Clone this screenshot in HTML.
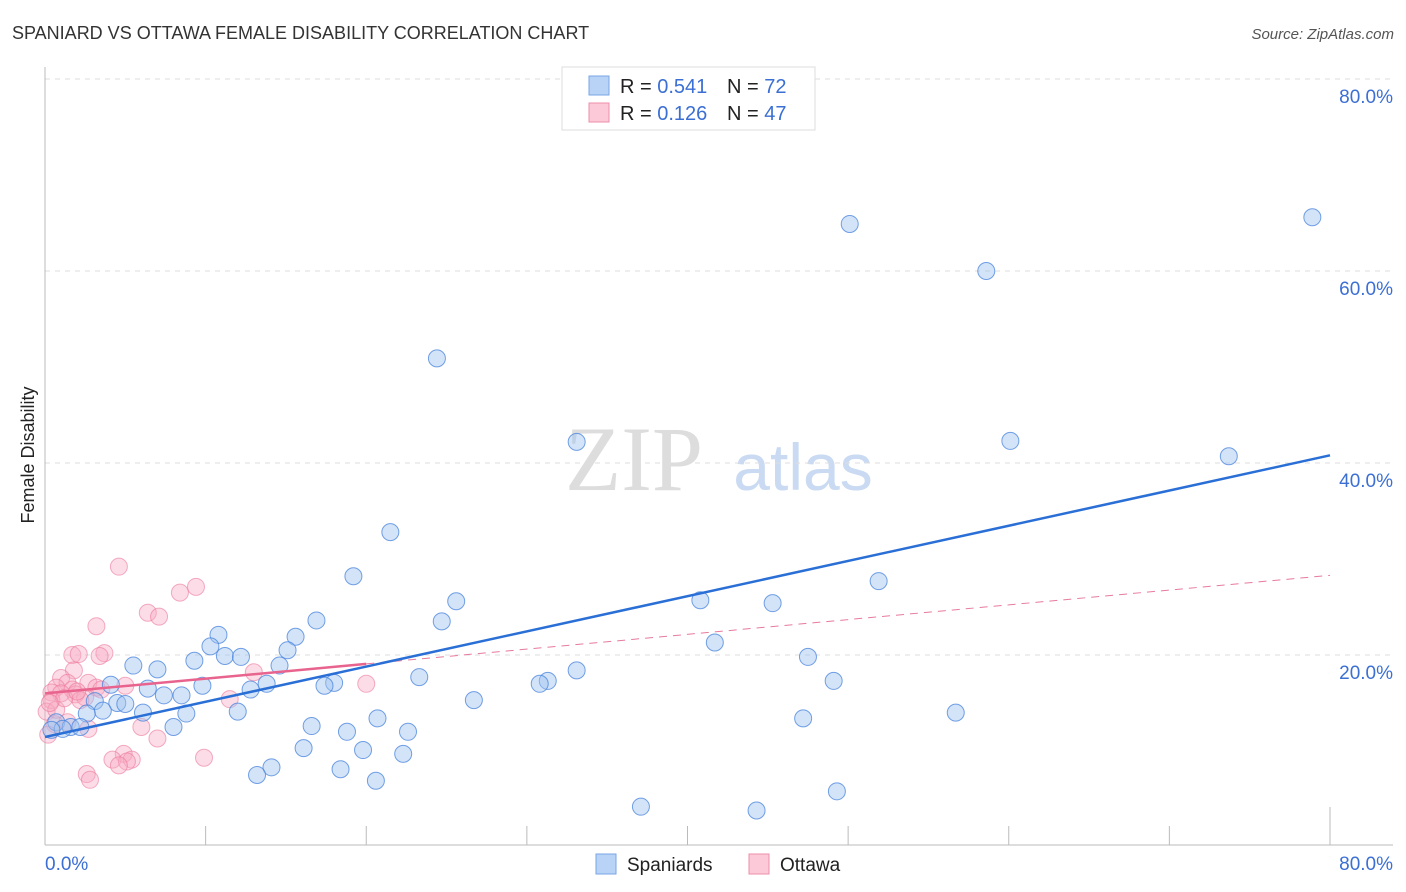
<!DOCTYPE html>
<html><head><meta charset="utf-8"><style>
body{margin:0;background:#fff;font-family:"Liberation Sans",sans-serif;}
svg{display:block}
</style></head><body>
<svg id="chart" width="1406" height="892">
<text x="12" y="39" font-size="18" fill="#333">SPANIARD VS OTTAWA FEMALE DISABILITY CORRELATION CHART</text>
<text x="1394" y="39" font-size="15" fill="#555" font-style="italic" text-anchor="end">Source: ZipAtlas.com</text>
<g>
<text x="634" y="490" font-size="92" fill="#ddd" text-anchor="middle" font-family="Liberation Serif,serif">ZIP</text>
<text x="803" y="490" font-size="66" fill="#c9daf2" text-anchor="middle">atlas</text>
</g>
<text transform="translate(34,455) rotate(-90)" font-size="18" fill="#222" text-anchor="middle">Female Disability</text>
<g id="grid"></g>
<g id="axes"></g>
<g id="points"></g>
<g id="trends"></g>
<g>
<rect x="562" y="67" width="253" height="63" fill="#fff" stroke="#ddd"/>
<rect x="589" y="76" width="20" height="19" fill="#b8d3f5" stroke="#7aa6e6"/>
<text x="620" y="93" font-size="20" fill="#222">R = <tspan fill="#3b6fd4">0.541</tspan><tspan x="727">N = </tspan><tspan fill="#3b6fd4">72</tspan></text>
<rect x="589" y="103" width="20" height="19" fill="#fbc9d7" stroke="#ee8eaa"/>
<text x="620" y="120" font-size="20" fill="#222">R = <tspan fill="#3b6fd4">0.126</tspan><tspan x="727">N = </tspan><tspan fill="#3b6fd4">47</tspan></text>
</g>
<g>
<rect x="596" y="854" width="20" height="20" fill="#b8d3f5" stroke="#7aa6e6"/>
<text x="627" y="871" font-size="19" fill="#222">Spaniards</text>
<rect x="749" y="854" width="20" height="20" fill="#fbc9d7" stroke="#ee8eaa"/>
<text x="780" y="871" font-size="19" fill="#222">Ottawa</text>
</g>
</svg>
<script>
const yTicks=[20,40,60,80];
const yTickLabels=["20.0%","40.0%","60.0%","80.0%"];
const xTickLabels=["0.0%","80.0%"];
const blueX=[78.9,50.1,58.6,24.4,33.1,60.1,73.7,21.5,19.2,51.9,25.6,40.8,45.3,24.7,16.9,15.6,10.8,41.7,10.3,15.1,11.2,12.2,47.5,9.3,14.6,5.5,7.0,33.1,23.3,49.1,31.3,30.8,18.0,17.4,4.1,13.8,9.8,6.4,12.8,7.4,8.5,26.7,3.1,4.5,5.0,3.6,6.1,8.8,12.0,2.6,20.7,47.2,56.7,0.7,16.6,8.0,1.6,2.2,1.1,18.8,22.6,0.4,16.1,19.8,22.3,14.1,18.4,13.2,20.6,37.1,44.3,49.3];
const blueY=[65.6,64.9,60.0,50.9,42.2,42.3,40.7,32.8,28.2,27.7,25.6,25.7,25.4,23.5,23.6,21.9,22.1,21.3,20.9,20.5,19.9,19.8,19.8,19.4,18.9,18.9,18.5,18.4,17.7,17.3,17.3,17.0,17.1,16.8,16.9,17.0,16.8,16.5,16.4,15.8,15.8,15.3,15.2,15.0,14.9,14.2,14.0,13.9,14.1,13.9,13.4,13.4,14.0,13.0,12.6,12.5,12.5,12.5,12.3,12.0,12.0,12.2,10.3,10.1,9.7,8.3,8.1,7.5,6.9,4.2,3.8,5.8];
const pinkX=[4.6,9.4,8.4,6.4,7.1,3.2,3.7,1.7,2.1,3.4,1.8,13.0,1.0,1.4,2.7,5.0,20.0,0.7,1.7,3.2,3.5,0.4,1.0,1.9,2.5,0.4,11.5,2.2,0.1,0.6,1.4,2.7,6.0,0.2,7.0,4.9,9.9,4.2,5.4,5.1,4.6,2.6,2.8,0.7,1.2,2.0,0.3];
const pinkY=[29.2,27.1,26.5,24.4,24.0,23.0,20.2,20.0,20.1,19.9,18.4,18.2,17.6,17.1,17.1,16.8,17.0,16.6,16.4,16.6,16.4,16.1,16.0,15.9,15.6,15.3,15.4,15.3,14.1,12.8,13.0,12.3,12.5,11.7,11.3,9.7,9.3,9.1,9.1,8.9,8.5,7.6,7.0,14.3,15.5,16.2,15.0];
const blueTrend=[11.46,40.8];
const pinkTrend=[16.0,28.3];
const pinkSolidEnd=20;
const X=v=>45+v/80*1285, Y=v=>847-v*9.6;
const NS="http://www.w3.org/2000/svg";
function mk(tag,attrs,parent){const e=document.createElementNS(NS,tag);for(const k in attrs)e.setAttribute(k,attrs[k]);document.getElementById(parent).appendChild(e);return e;}
yTicks.forEach((t,i)=>{
 const g=mk('line',{x1:45,x2:1393,y1:Y(t),y2:Y(t),stroke:'#ddd','stroke-dasharray':'5,5'},'grid');
 
 
 const l=mk('text',{x:1393,y:Y(t)+24,'font-size':19,fill:'#3b6fd4','text-anchor':'end'},'grid');
 l.textContent=yTickLabels[i];
 
 
});
const ax=mk('line',{x1:45,x2:45,y1:67,y2:845,stroke:'#bbb'},'axes');


const bx=mk('line',{x1:45,x2:1393,y1:845,y2:845,stroke:'#bbb'},'axes');


for(let v=10;v<=80;v+=10){
 const t=mk('line',{x1:X(v),x2:X(v),y1:v==80?807:826,y2:845,stroke:'#bbb'},'axes');
 
 
}
const xl0=mk('text',{x:45,y:870,'font-size':19,fill:'#3b6fd4'},'axes');xl0.textContent=xTickLabels[0];


const xl1=mk('text',{x:1393,y:870,'font-size':19,fill:'#3b6fd4','text-anchor':'end'},'axes');xl1.textContent=xTickLabels[1];


pinkX.forEach((x,i)=>{
 const c=mk('circle',{cx:X(x),cy:Y(pinkY[i]),r:8.5,fill:'rgba(248,170,195,0.4)',stroke:'rgba(236,120,155,0.6)','stroke-width':1},'points');
 
 
});
blueX.forEach((x,i)=>{
 const c=mk('circle',{cx:X(x),cy:Y(blueY[i]),r:8.5,fill:'rgba(160,195,240,0.45)',stroke:'rgba(70,130,220,0.75)','stroke-width':1},'points');
 
 
});
const py=x=>pinkTrend[0]+(pinkTrend[1]-pinkTrend[0])*x/80;
const pd=mk('line',{x1:X(pinkSolidEnd),y1:Y(py(pinkSolidEnd)),x2:X(80),y2:Y(pinkTrend[1]),stroke:'#e77a9c','stroke-width':1,'stroke-dasharray':'8,6'},'trends');


const bt=mk('line',{x1:X(0),y1:Y(blueTrend[0]),x2:X(80),y2:Y(blueTrend[1]),stroke:'#2a6fd6','stroke-width':2.5},'trends');


const ps=mk('line',{x1:X(0),y1:Y(pinkTrend[0]),x2:X(pinkSolidEnd),y2:Y(py(pinkSolidEnd)),stroke:'#e8638d','stroke-width':2.5},'trends');


</script>
</body></html>
